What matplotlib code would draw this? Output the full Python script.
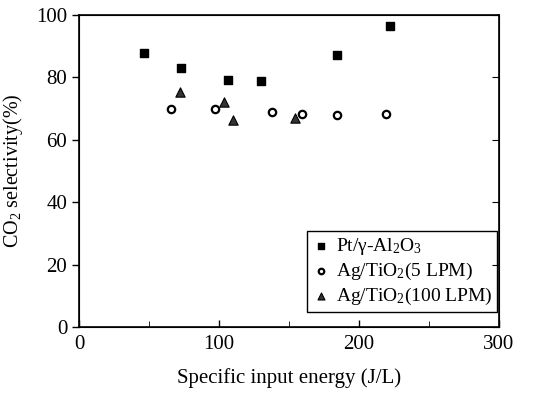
import matplotlib
matplotlib.use("Agg")
import matplotlib.pyplot as plt

plt.rcParams['font.family'] = ['Liberation Serif', 'DejaVu Serif']
plt.rcParams['mathtext.fontset'] = 'custom'
plt.rcParams['mathtext.rm'] = 'Liberation Serif'
plt.rcParams['mathtext.it'] = 'Liberation Serif:italic'

pt_x = [46, 73, 106, 130, 184, 222]
pt_y = [87.8, 83.0, 79.0, 78.7, 87.3, 96.5]
ag5_x = [65.5, 97, 138, 159.5, 184, 219]
ag5_y = [69.8, 69.8, 68.8, 68.2, 67.8, 68.2]
ag100_x = [72, 103.5, 110, 154]
ag100_y = [75.2, 72.0, 66.3, 66.9]

labels = ['Pt/γ-Al$_2$O$_3$', 'Ag/TiO$_2$(5 LPM)', 'Ag/TiO$_2$(100 LPM)']
xticks = [0, 100, 200, 300]
yticks = [0, 20, 40, 60, 80, 100]

fig = plt.figure(figsize=(5.46, 3.93), dpi=100)
ax = fig.add_axes([0.145, 0.168, 0.769, 0.794])

ax.scatter(pt_x, pt_y, marker='s', s=40, c='black', label=labels[0], zorder=3)
ax.scatter(ag5_x, ag5_y, marker='o', s=28, facecolors='white', edgecolors='black',
           linewidths=1.6, label=labels[1], zorder=3)
ax.scatter(ag100_x, ag100_y, marker='^', s=45, c='#333333', edgecolors='black',
           linewidths=0.8, label=labels[2], zorder=3)

ax.set_xlim(0, 300)
ax.set_ylim(0, 100)
ax.set_xticks(xticks)
ax.set_xticks([50, 150, 250], minor=True)
ax.set_yticks(yticks)
ax.tick_params(axis='both', labelsize=15, length=5, width=1, color='black')
ax.tick_params(axis='x', direction='in', top=False, pad=6)
ax.tick_params(axis='x', which='minor', direction='in', length=4)
ax.tick_params(axis='y', direction='out', right=False)
for sp in ax.spines.values():
    sp.set_linewidth(1.2)

ax2 = ax.twinx()
ax2.set_ylim(0, 100)
ax2.set_yticks(yticks)
ax2.tick_params(axis='y', direction='in', length=5, labelright=False)

ax.set_xlabel('Specific input energy (J/L)', fontsize=15, labelpad=10)
ax.set_ylabel('CO$_2$ selectivity(%)', fontsize=14.5, labelpad=8)

leg = ax.legend(loc='lower right', bbox_to_anchor=(0.995, 0.048), borderaxespad=0,
                fontsize=14, markerscale=0.75,
                frameon=True, fancybox=False, edgecolor='black', framealpha=1,
                handletextpad=0.3, handlelength=0.9, borderpad=0.25, labelspacing=0.2)
leg.get_frame().set_linewidth(1.0)

fig.savefig('out.png', dpi=100)
